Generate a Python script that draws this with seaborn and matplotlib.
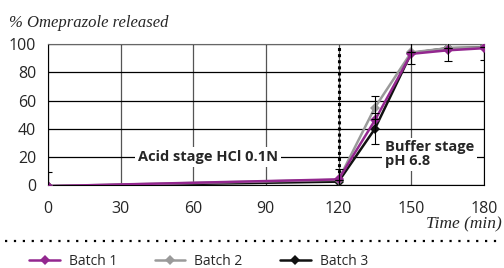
import pandas as pd
import matplotlib.pyplot as plt
import seaborn as sns
from matplotlib.lines import Line2D

# dissolution data
time = [0, 120, 135, 150, 165, 180]
batch1 = [-0.5, 4.3, 46, 93, 95.5, 97]
batch2 = [-0.5, 4.0, 55, 94, 97, 97.5]
batch3 = [-0.5, 2.7, 40, 93.5, 97, 97.5]
err2 = [0, 0, 8, 0, 0, 0]
err3 = [10, 9, 11, 8, 9, 9]
names = ['Batch 1', 'Batch 2', 'Batch 3']
colors = ['#93278f', '#9a9a9a', '#111111']

df = pd.DataFrame({
    'Time': time * 3,
    'Release': batch1 + batch2 + batch3,
    'Batch': [n for n in names for _ in time],
})

sns.set_style('white')
plt.rcParams['font.family'] = ['Open Sans', 'DejaVu Sans']

fig = plt.figure(figsize=(5.04, 2.68), dpi=100)
ax = fig.add_axes([0.095, 0.308, 0.865, 0.528])

# draw batch 1 last so it sits on top
sns.lineplot(data=df, x='Time', y='Release', hue='Batch',
             hue_order=names[::-1], palette=colors[::-1],
             marker='D', markersize=5.5, markeredgewidth=0, linewidth=1.8,
             legend=False, ax=ax, zorder=3)

# error bars
ax.errorbar(time, batch3, yerr=err3, fmt='none', ecolor='black',
            elinewidth=0.8, capsize=3, capthick=0.8, zorder=4)
ax.errorbar(time, batch2, yerr=err2, fmt='none', ecolor='black',
            elinewidth=0.8, capsize=3, capthick=0.8, zorder=4)

ax.set_xlim(0, 180)
ax.set_ylim(0, 100)
ax.set_xticks(range(0, 181, 30))
ax.set_yticks(range(0, 101, 20))
ax.grid(True, axis='y', color='black', linewidth=0.9)
ax.grid(True, axis='x', color='#555555', linewidth=0.9)
ax.set_axisbelow(True)
ax.tick_params(axis='both', labelsize=11.5, length=5, direction='inout', width=0.9)
ax.tick_params(axis='x', pad=9)
ax.tick_params(axis='y', pad=6)
for side in ['left', 'bottom', 'right']:
    ax.spines[side].set_color('black')
ax.spines['top'].set_color('#666666')

# stage switch
ax.axvline(120, color='black', linestyle=(0, (1, 1)), linewidth=2.2, zorder=2)

ax.text(66, 20, 'Acid stage HCl 0.1N', fontsize=10.5, fontweight='bold',
        ha='center', va='center', zorder=5,
        bbox=dict(facecolor='white', edgecolor='none', pad=2))
ax.text(139, 22, 'Buffer stage\npH 6.8', fontsize=10.5, fontweight='bold',
        ha='left', va='center', linespacing=1.0, zorder=5,
        bbox=dict(facecolor='white', edgecolor='none', pad=2))

ax.set_xlabel('')
ax.set_ylabel('')
fig.text(0.018, 0.915, '% Omeprazole released', fontsize=12, style='italic',
         family='Liberation Serif', ha='left', va='center')
fig.text(0.995, 0.164, 'Time (min)', fontsize=12.5, style='italic',
         family='Liberation Serif', ha='right', va='center')

# dotted separator above legend
fig.add_artist(Line2D([0.01, 0.995], [0.10, 0.10],
                      transform=fig.transFigure, color='black',
                      linestyle=(0, (1, 3)), linewidth=1.6))

handles = [Line2D([0], [0], color=c, marker='D', markersize=5.5, linewidth=1.8,
                  markeredgewidth=0) for c in colors]
fig.legend(handles, names, loc='center left', bbox_to_anchor=(0.047, 0.024),
           ncol=3, frameon=False, fontsize=10, handlelength=2.2,
           columnspacing=2.7, handletextpad=0.65, borderaxespad=0)

fig.savefig('out.png', dpi=100)
